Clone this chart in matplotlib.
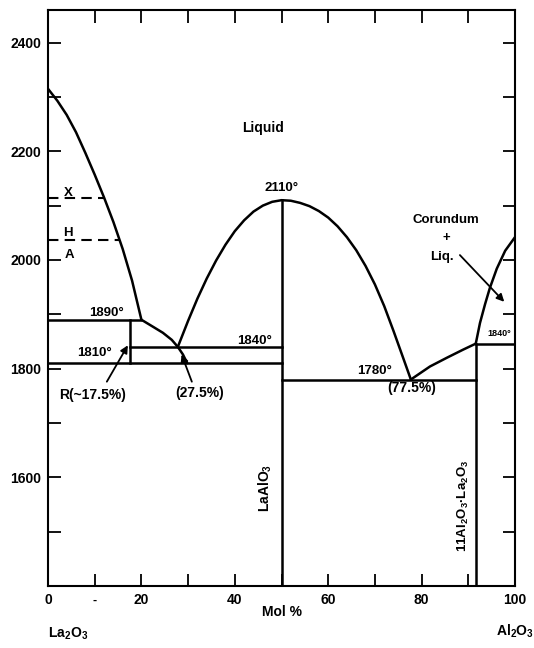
import numpy as np
import matplotlib
matplotlib.use('Agg')
import matplotlib.pyplot as plt
from matplotlib.ticker import MultipleLocator

plt.rcParams['font.family'] = ['Liberation Sans', 'DejaVu Sans']
plt.rcParams['mathtext.default'] = 'regular'

# ---- values (mol % Al2O3, temperature) ----
# La2O3 liquidus
la_x = [0, 2, 4, 6, 8, 10, 12, 14, 16, 18, 20]
la_t = [2315, 2293, 2267, 2235, 2197, 2157, 2115, 2070, 2020, 1962, 1890]
# R phase liquidus
r_x = [20, 22.5, 24.6, 26.5, 27.8, 28.9, 29.8]
r_t = [1890, 1877, 1866, 1853, 1840, 1826, 1810]
# LaAlO3 liquidus (dome)
lap_x = [27.8, 30, 32, 34, 36, 38, 40, 42, 44, 46, 48, 50,
         52, 54, 56, 58, 60, 62, 64, 66, 68, 70, 72, 74, 76, 77.7]
lap_t = [1840, 1888, 1929, 1966, 1999, 2028, 2053, 2073, 2089, 2100, 2107, 2110,
         2109, 2105, 2099, 2090, 2078, 2062, 2042, 2018, 1989, 1955, 1915, 1869, 1821, 1780]
# 11Al2O3.La2O3 liquidus
b_x = [77.7, 81.8, 85.4, 88.9, 91.6]
b_t = [1780, 1804, 1820, 1835, 1846]
# corundum liquidus
al_x = [91.6, 92.5, 93.6, 94.6, 96.1, 97.9, 100]
al_t = [1846, 1884, 1919, 1948, 1984, 2017, 2042]

# isotherms: (x start, x end, temperature)
isotherms = [(0, 20, 1890), (17.5, 50, 1840), (0, 50, 1810), (50, 91.6, 1780), (91.6, 100, 1845)]
# compound / phase boundaries: (x, t top, t bottom)
verticals = [(17.5, 1890, 1810), (50, 2110, 1400), (91.6, 1846, 1400)]
# polymorph transitions (dashed): (x end, temperature)
dashed = [(12.0, 2114), (15.3, 2037)]

xticks = [0, 20, 40, 60, 80, 100]
yticks = [1600, 1800, 2000, 2200, 2400]

fig = plt.figure(figsize=(5.34, 6.48), dpi=100)
ax = fig.add_axes([48/534, 1-586/648, (515-48)/534, (586-10)/648])

lw = 1.8
for xs, ts in [(la_x, la_t), (r_x, r_t), (lap_x, lap_t), (b_x, b_t), (al_x, al_t)]:
    ax.plot(xs, ts, color='black', lw=lw, solid_capstyle='round', solid_joinstyle='round')
for x0, x1, t in isotherms:
    ax.plot([x0, x1], [t, t], color='black', lw=lw)
for x, t0, t1 in verticals:
    ax.plot([x, x], [t0, t1], color='black', lw=lw)
for x1, t in dashed:
    ax.plot([0, x1], [t, t], color='black', lw=1.5, dashes=(5, 3))

ax.set_xlim(0, 100)
ax.set_ylim(1400, 2460)
ax.set_xticks(xticks)
ax.set_yticks(yticks)
ax.xaxis.set_minor_locator(MultipleLocator(10))
ax.yaxis.set_minor_locator(MultipleLocator(100))
ax.tick_params(which='both', direction='in', length=9, width=1.3, top=True, right=True)
ax.tick_params(labelsize=10, pad=5)
for lab in ax.get_xticklabels() + ax.get_yticklabels():
    lab.set_fontweight('bold')
for s in ax.spines.values():
    s.set_linewidth(1.5)

tk = dict(color='black', fontweight='bold')
ax.text(46, 2242, 'Liquid', ha='center', va='center', fontsize=10, **tk)
ax.text(50, 2122, '2110°', ha='center', va='bottom', fontsize=9.5, **tk)
ax.text(4.3, 2123, 'X', ha='center', va='center', fontsize=9.5, **tk)
ax.text(4.3, 2050, 'H', ha='center', va='center', fontsize=9.5, **tk)
ax.text(4.6, 2009, 'A', ha='center', va='center', fontsize=9.5, **tk)
ax.text(12.6, 1903, '1890°', ha='center', va='center', fontsize=9.5, **tk)
ax.text(10, 1829, '1810°', ha='center', va='center', fontsize=9.5, **tk)
ax.text(44.2, 1850, '1840°', ha='center', va='center', fontsize=9.5, **tk)
ax.text(70, 1796, '1780°', ha='center', va='center', fontsize=9.5, **tk)
ax.text(96.6, 1864, '1840°', ha='center', va='center', fontsize=6.5, **tk)
ax.text(9.6, 1752, 'R(~17.5%)', ha='center', va='center', fontsize=10, **tk)
ax.text(32.5, 1756, '(27.5%)', ha='center', va='center', fontsize=10, **tk)
ax.text(77.8, 1765, '(77.5%)', ha='center', va='center', fontsize=10, **tk)
ax.text(85.3, 2073, 'Corundum', ha='center', va='center', fontsize=9.5, **tk)
ax.text(85.3, 2040, '+', ha='center', va='center', fontsize=9.5, **tk)
ax.text(84.3, 2006, 'Liq.', ha='center', va='center', fontsize=9.5, **tk)
ax.text(48.4, 1580, r'LaAlO$_3$', ha='right', va='center', rotation=90, fontsize=10, **tk)
ax.text(90.6, 1547, r'11Al$_2$O$_3$·La$_2$O$_3$', ha='right', va='center', rotation=90, fontsize=9.5, **tk)

arr = dict(arrowstyle='-|>', color='black', lw=1.3, mutation_scale=11, shrinkA=0, shrinkB=0)
ax.annotate('', xy=(17.1, 1843), xytext=(12.6, 1776), arrowprops=arr)
ax.annotate('', xy=(28.6, 1826), xytext=(30.8, 1776), arrowprops=arr)
ax.annotate('', xy=(97.7, 1923), xytext=(88.2, 2009), arrowprops=arr)

# labels below the axis
ax.text(10, 1372, '-', ha='center', va='center', fontsize=9, clip_on=False, **tk)
ax.text(50, 1352, 'Mol %', ha='center', va='center', fontsize=10, clip_on=False, **tk)
ax.text(4.3, 1312, r'La$_2$O$_3$', ha='center', va='center', fontsize=10, clip_on=False, **tk)
ax.text(100, 1316, r'Al$_2$O$_3$', ha='center', va='center', fontsize=10, clip_on=False, **tk)

fig.savefig('out.png', dpi=100)
